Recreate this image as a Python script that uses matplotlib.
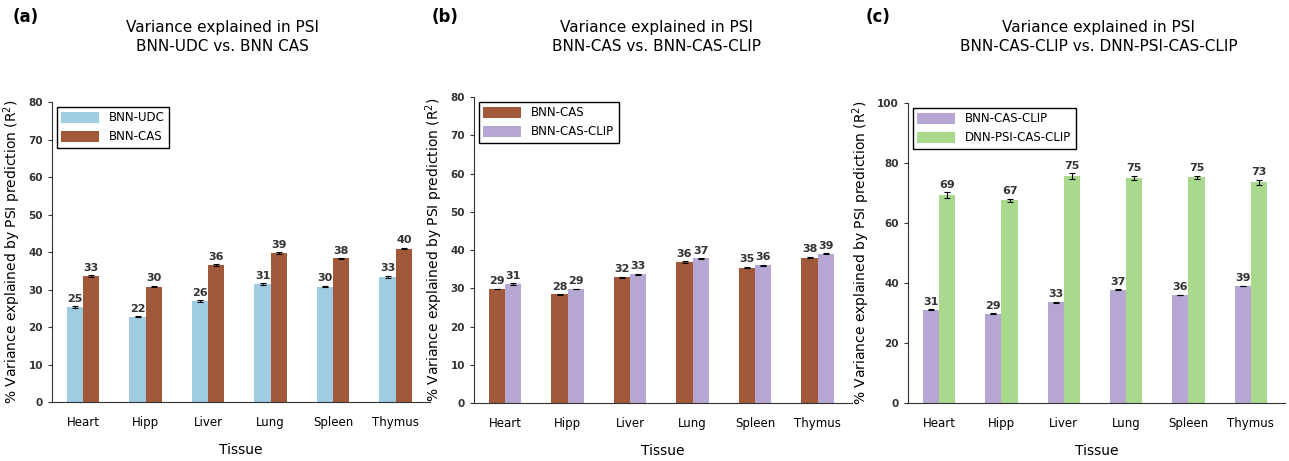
import matplotlib.pyplot as plt
import numpy as np

tissues = ['Heart', 'Hipp', 'Liver', 'Lung', 'Spleen', 'Thymus']

# panel a
udc = [25.3, 22.8, 26.9, 31.5, 30.8, 33.4]
udc_err = [0.2, 0.1, 0.2, 0.2, 0.2, 0.3]
cas_a = [33.6, 30.8, 36.5, 39.7, 38.3, 40.9]
cas_a_err = [0.2, 0.2, 0.3, 0.2, 0.1, 0.2]

# panel b
cas_b = [29.8, 28.4, 32.9, 36.8, 35.4, 38.0]
cas_b_err = [0.1, 0.1, 0.1, 0.2, 0.2, 0.2]
clip_b = [31.1, 29.8, 33.6, 37.8, 36.0, 39.0]
clip_b_err = [0.2, 0.1, 0.2, 0.1, 0.1, 0.1]

# panel c
clip_c = [31.1, 29.8, 33.6, 37.8, 36.0, 39.0]
clip_c_err = [0.2, 0.2, 0.2, 0.1, 0.1, 0.1]
dnn = [69.3, 67.5, 75.7, 75.1, 75.2, 73.6]
dnn_err = [1.0, 0.6, 0.9, 0.7, 0.6, 0.8]

c_blue = '#9fcbe3'
c_brown = '#a2593a'
c_purple = '#b6a6d3'
c_green = '#a8d98c'

def panel(ax, s1, e1, s2, e2, names, cols, ymax, yticks):
    x = np.arange(len(tissues))
    w = 0.26
    for vals, errs, off, col, nm in [(s1, e1, -w/2, cols[0], names[0]), (s2, e2, w/2, cols[1], names[1])]:
        ax.bar(x + off, vals, w, color=col, label=nm, edgecolor='none',
               yerr=errs, capsize=2, error_kw=dict(ecolor='black', elinewidth=0.8, capthick=0.8))
        for xi, v, e in zip(x + off, vals, errs):
            ax.text(xi, v + e + ymax*0.008, str(int(v)), ha='center', va='bottom',
                    fontsize=8, fontweight='bold', color='#333333')
    ax.set_xlim(-0.5, 5.55)
    ax.set_ylim(0, ymax)
    ax.set_yticks(yticks)
    ax.set_xticks(x)
    ax.set_xticklabels(tissues, fontsize=8.5)
    ax.tick_params(axis='x', length=0, pad=10)
    ax.tick_params(axis='y', length=3, direction='out', labelsize=7.5, colors='#333333')
    for lb in ax.get_yticklabels():
        lb.set_fontweight('bold')
    ax.spines['top'].set_visible(False)
    ax.spines['right'].set_visible(False)
    ax.spines['left'].set_color('#333333')
    ax.spines['bottom'].set_color('#333333')
    ax.set_xlabel('Tissue', fontsize=10, labelpad=10)
    ax.set_ylabel('% Variance explained by PSI prediction (R$^2$)', fontsize=10, labelpad=4)
    leg = ax.legend(loc='upper left', fontsize=8.5, fancybox=False, edgecolor='black',
                    handlelength=3.2, handleheight=1.0, borderaxespad=0.4, framealpha=1)
    leg.get_frame().set_linewidth(1.0)

fig = plt.figure(figsize=(12.89, 4.61), dpi=100)
H = 461.0
W = 1289.0
axa = fig.add_axes([52/W, 1 - 402/H, 378/W, 300/H])
axb = fig.add_axes([474/W, 1 - 403/H, 378/W, 306/H])
axc = fig.add_axes([908/W, 1 - 403/H, 377/W, 300/H])

panel(axa, udc, udc_err, cas_a, cas_a_err, ['BNN-UDC', 'BNN-CAS'], [c_blue, c_brown], 80, range(0, 81, 10))
panel(axb, cas_b, cas_b_err, clip_b, clip_b_err, ['BNN-CAS', 'BNN-CAS-CLIP'], [c_brown, c_purple], 80, range(0, 81, 10))
panel(axc, clip_c, clip_c_err, dnn, dnn_err, ['BNN-CAS-CLIP', 'DNN-PSI-CAS-CLIP'], [c_purple, c_green], 100, range(0, 101, 20))

fig.text(13/W, 1 - 17/H, '(a)', fontsize=12, fontweight='bold', va='center')
fig.text(432/W, 1 - 17/H, '(b)', fontsize=12, fontweight='bold', va='center')
fig.text(866/W, 1 - 17/H, '(c)', fontsize=12, fontweight='bold', va='center')

fig.text(222/W, 1 - 37/H, 'Variance explained in PSI\nBNN-UDC vs. BNN CAS', ha='center', va='center', fontsize=11, linespacing=1.3)
fig.text(657/W, 1 - 37/H, 'Variance explained in PSI\nBNN-CAS vs. BNN-CAS-CLIP', ha='center', va='center', fontsize=11, linespacing=1.3)
fig.text(1099/W, 1 - 37/H, 'Variance explained in PSI\nBNN-CAS-CLIP vs. DNN-PSI-CAS-CLIP', ha='center', va='center', fontsize=11, linespacing=1.3)

fig.savefig('out.png', dpi=100)
